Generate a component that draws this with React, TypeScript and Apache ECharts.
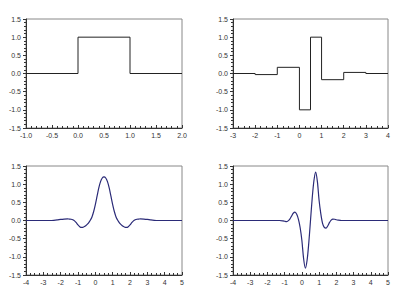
import React, { useEffect, useRef } from "react";
import * as echarts from "echarts";

// Top-left: box function (step edges and values)
const tlEdges = [-1, 0, 1, 2];
const tlValues = [0, 1, 0];

// Top-right: step wavelet
const trEdges = [-3, -2, -1, 0, 0.5, 1, 2, 3, 4];
const trValues = [0, -0.03, 0.17, -1.0, 1.0, -0.17, 0.03, 0];

// Bottom-left: smooth scaling function
const blX = [-4, -2.6, -2.4, -2.2, -2.0, -1.8, -1.6, -1.5, -1.4, -1.3, -1.2, -1.1, -1.0, -0.9, -0.8, -0.7, -0.6, -0.5, -0.4, -0.3, -0.2, -0.1, 0, 0.1, 0.2, 0.3, 0.4, 0.5, 0.6, 0.7, 0.8, 0.9, 1.0, 1.1, 1.2, 1.3, 1.4, 1.5, 1.6, 1.7, 1.8, 1.9, 2.0, 2.1, 2.2, 2.3, 2.4, 2.5, 2.6, 2.8, 3.0, 3.2, 3.4, 3.6, 5];
const blY = [0, 0, 0.005, 0.015, 0.03, 0.04, 0.045, 0.04, 0.035, 0.02, -0.01, -0.06, -0.12, -0.17, -0.19, -0.185, -0.16, -0.12, -0.07, 0.0, 0.09, 0.24, 0.44, 0.67, 0.9, 1.07, 1.17, 1.2, 1.17, 1.07, 0.9, 0.67, 0.44, 0.24, 0.09, 0.0, -0.07, -0.12, -0.16, -0.185, -0.19, -0.17, -0.12, -0.06, -0.01, 0.02, 0.035, 0.04, 0.045, 0.04, 0.03, 0.015, 0.005, 0, 0];

// Bottom-right: smooth wavelet
const brX = [-4, -1.3, -1.1, -1.0, -0.9, -0.8, -0.7, -0.6, -0.5, -0.4, -0.3, -0.2, -0.1, 0, 0.1, 0.2, 0.3, 0.4, 0.5, 0.6, 0.7, 0.8, 0.9, 1.0, 1.1, 1.2, 1.3, 1.4, 1.5, 1.6, 1.7, 1.8, 1.9, 2.0, 2.1, 2.3, 5];
const brY = [0, 0, -0.01, -0.02, -0.03, -0.01, 0.04, 0.12, 0.2, 0.23, 0.17, 0.03, -0.2, -0.55, -1.05, -1.31, -1.1, -0.62, 0, 0.62, 1.1, 1.33, 1.07, 0.55, 0.18, -0.08, -0.19, -0.21, -0.15, -0.06, 0.01, 0.04, 0.035, 0.02, 0.01, 0, 0];

const yTicks = ["-1.5", "-1.0", "-0.5", "0.0", "0.5", "1.0", "1.5"];

// explicit corner points of a step function
function stepPts(edges: number[], values: number[]) {
  const d: number[][] = [];
  for (let i = 0; i < values.length; i++) {
    d.push([edges[i], values[i]]);
    d.push([edges[i + 1], values[i]]);
  }
  return d;
}
function pairs(xs: number[], ys: number[]) {
  return xs.map((x, i) => [x, ys[i]]);
}

const FONT = "Liberation Sans";

export default function App() {
  const ref = useRef<HTMLDivElement>(null);
  useEffect(() => {
    if (!ref.current) return;
    const chart = echarts.init(ref.current, null, { renderer: "svg" });
    const grids = [
      { left: 26, top: 19, width: 156, height: 109 },
      { left: 233, top: 19, width: 155, height: 109 },
      { left: 26, top: 166, width: 156, height: 109 },
      { left: 233, top: 166, width: 155, height: 109 },
    ].map((g) => ({ ...g, show: true, borderColor: "#888", borderWidth: 1, backgroundColor: "transparent" }));
    const xCfg = [
      { min: -1, max: 2, interval: 0.5, dec: 1, minor: 5 },
      { min: -3, max: 4, interval: 1, dec: 0, minor: 4 },
      { min: -4, max: 5, interval: 1, dec: 0, minor: 4 },
      { min: -4, max: 5, interval: 1, dec: 0, minor: 4 },
    ];
    const label = { fontFamily: FONT, fontSize: 7, color: "#333" };
    const xAxis = xCfg.map((c, i) => ({
      type: "value",
      gridIndex: i,
      min: c.min,
      max: c.max,
      interval: c.interval,
      axisLine: { show: true, onZero: false, lineStyle: { color: "#333", width: 1 } },
      axisTick: { show: true, inside: true, length: 3, lineStyle: { color: "#333" } },
      minorTick: { show: true, splitNumber: c.minor, length: 2, lineStyle: { color: "#333" } },
      splitLine: { show: false },
      axisLabel: { ...label, margin: 4, formatter: (v: number) => v.toFixed(c.dec) },
    }));
    const yAxis = [0, 1, 2, 3].map((i) => ({
      type: "value",
      gridIndex: i,
      min: -1.5,
      max: 1.5,
      interval: 0.5,
      axisLine: { show: true, onZero: false, lineStyle: { color: "#333", width: 1 } },
      axisTick: { show: true, inside: false, length: 3, lineStyle: { color: "#333" } },
      minorTick: { show: true, splitNumber: 5, length: 2, lineStyle: { color: "#333" } },
      splitLine: { show: false },
      axisLabel: {
        ...label,
        margin: 5,
        formatter: (v: number) => {
          const s = v.toFixed(1);
          return yTicks.includes(s) ? s : "";
        },
      },
    }));
    chart.setOption({
      animation: false,
      grid: grids,
      xAxis,
      yAxis,
      series: [
        {
          type: "line", xAxisIndex: 0, yAxisIndex: 0,
          data: stepPts(tlEdges, tlValues),
          symbol: "none", lineStyle: { color: "#222", width: 1 },
        },
        {
          type: "line", xAxisIndex: 1, yAxisIndex: 1,
          data: stepPts(trEdges, trValues),
          symbol: "none", lineStyle: { color: "#222", width: 1 },
        },
        {
          type: "line", xAxisIndex: 2, yAxisIndex: 2, smooth: 0.3,
          data: pairs(blX, blY), symbol: "none", lineStyle: { color: "#2b2b78", width: 1.2 },
        },
        {
          type: "line", xAxisIndex: 3, yAxisIndex: 3, smooth: 0.3,
          data: pairs(brX, brY), symbol: "none", lineStyle: { color: "#2b2b78", width: 1.2 },
        },
      ],
    });
    return () => chart.dispose();
  }, []);
  return <div ref={ref} style={{ position: "absolute", left: 0, top: 0, width: 415, height: 294 }} />;
}
